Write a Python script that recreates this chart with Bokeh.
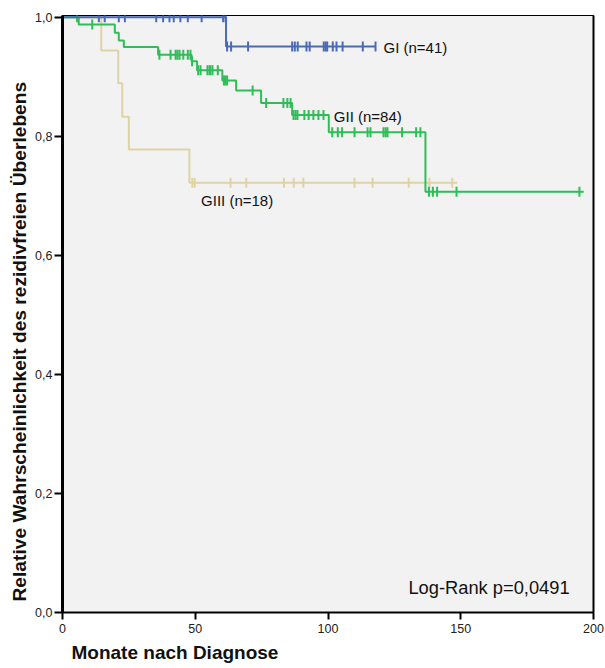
import numpy as np
from bokeh.plotting import figure
from bokeh.models import Range1d, FixedTicker, Label, LinearAxis, Title
from bokeh.embed import file_html
from bokeh.resources import INLINE

# ---- data ----
# GI (n=41)
gi_time = [0.0, 61.6]
gi_surv = [1.0, 0.951]
gi_end = 117.9
gi_cens = [13.7, 15.9, 21.2, 23.5, 35.3, 37.9, 40.3, 41.9, 44.4, 47.2, 52.4, 60.5, 61.4,
           62.0, 63.5, 69.9, 86.5, 87.5, 88.6, 91.9, 93.1, 98.4, 99.1, 99.7, 101.8, 103.2,
           105.5, 113.1, 117.9]

# GII (n=84)
gii_time = [0.0, 6.1, 19.7, 21.2, 23.1, 36.0, 48.6, 50.7, 60.2, 65.4, 74.8, 86.5, 100.3, 136.7]
gii_surv = [1.0, 0.988, 0.974, 0.961, 0.950, 0.937, 0.926, 0.911, 0.894, 0.877, 0.856, 0.836, 0.807, 0.707]
gii_end = 196.3
gii_cens = [5.5, 11.2,
            36.5, 40.7, 42.6, 43.3, 44.1, 45.5, 47.2, 48.2,
            48.8,
            51.1, 52.0, 54.6, 55.4, 55.7, 56.5, 58.5,
            60.8, 61.4, 62.0,
            71.6,
            76.7, 83.2, 84.7, 85.9,
            87.0, 87.8, 88.5, 91.1, 92.7, 94.5, 96.4, 98.3,
            101.6, 103.7, 105.3, 110.0, 114.9, 116.0, 120.9, 121.7, 122.4, 127.9, 133.2, 134.8,
            138.0, 139.5, 141.1, 148.4, 194.7]

# GIII (n=18)
giii_time = [0.0, 14.6, 21.0, 22.5, 25.0, 47.8]
giii_surv = [1.0, 0.944, 0.889, 0.833, 0.778, 0.722]
giii_end = 148.7
giii_cens = [48.9, 49.8, 63.3, 69.2, 83.4, 87.1, 90.7, 110.0, 116.8, 130.4, 138.2, 146.8]

group_labels = ["GI (n=41)", "GII (n=84)", "GIII (n=18)"]
logrank_text = "Log-Rank p=0,0491"

x_ticks = [0, 50, 100, 150, 200]
y_ticks = [0.0, 0.2, 0.4, 0.6, 0.8, 1.0]
y_tick_labels = ["0,0", "0,2", "0,4", "0,6", "0,8", "1,0"]

x_title = "Monate nach Diagnose"
y_title = "Relative Wahrscheinlichkeit des rezidivfreien Überlebens"

COL_GI = "#4a6ab8"
COL_GII = "#2fbd58"
COL_GIII = "#ddd4a3"
FONT = "Liberation Sans"

p = figure(width=605, height=668, output_backend="svg", toolbar_location=None,
           x_range=Range1d(0, 200), y_range=Range1d(0, 1.003),
           min_border_left=62, min_border_right=12, min_border_top=15, min_border_bottom=56)
p.background_fill_color = "#f2f2f2"
p.border_fill_color = "white"
p.outline_line_color = "black"
p.outline_line_width = 1
p.grid.visible = False


def surv_at(times, survs, t):
    idx = np.searchsorted(np.array(times), np.array(t), side="right") - 1
    return list(np.array(survs)[idx])


def draw(times, survs, end, cens, color):
    xs = list(times) + [end]
    ys = list(survs) + [survs[-1]]
    p.step(xs, ys, mode="after", line_color=color, line_width=2)
    p.scatter(cens, surv_at(times, survs, cens), marker="dash", angle=np.pi / 2,
              size=10, line_color=color, line_width=2)


draw(giii_time, giii_surv, giii_end, giii_cens, COL_GIII)
draw(gii_time, gii_surv, gii_end, gii_cens, COL_GII)
draw(gi_time, gi_surv, gi_end, gi_cens, COL_GI)

# axes
for ax in (p.xaxis[0], p.yaxis[0]):
    ax.axis_line_color = "black"
    ax.major_tick_line_color = "black"
    ax.major_tick_line_width = 2
    ax.minor_tick_line_color = None
    ax.major_tick_in = 0
    ax.major_label_text_font = FONT
    ax.major_label_text_font_size = "12.5px"
    ax.major_label_text_color = "#222222"

p.yaxis.axis_line_width = 3
p.xaxis.axis_line_width = 2
p.xaxis.major_tick_out = 7
p.yaxis.major_tick_out = 8
p.xaxis.ticker = FixedTicker(ticks=x_ticks)
p.yaxis.ticker = FixedTicker(ticks=y_ticks)
p.yaxis.major_label_overrides = {t: l for t, l in zip(y_ticks, y_tick_labels)}
p.xaxis.major_label_standoff = 4
p.yaxis.major_label_standoff = 2

right_ax = LinearAxis(axis_line_width=2, axis_line_color="black",
                      major_tick_line_color=None, minor_tick_line_color=None,
                      major_label_text_font_size="0px", ticker=FixedTicker(ticks=[]))
p.add_layout(right_ax, "right")

# group labels
lab_pos = [(120.9, 0.950), (102.2, 0.833), (52.2, 0.693)]
for txt, (lx, ly) in zip(group_labels, lab_pos):
    p.add_layout(Label(x=lx, y=ly, text=txt, text_font=FONT, text_font_size="15px",
                       text_baseline="middle", text_align="left", text_color="#111111"))

p.add_layout(Label(x=130.3, y=0.042, text=logrank_text, text_font=FONT,
                   text_font_size="18.3px", text_baseline="middle", text_align="left",
                   text_color="#111111"))

# axis titles
p.add_layout(Title(text=x_title, text_font=FONT, text_font_size="19px",
                   text_font_style="bold", align="left", offset=9, standoff=8,
                   text_color="#111111"), "below")
p.add_layout(Title(text=y_title, text_font=FONT, text_font_size="19.2px",
                   text_font_style="bold", align="left", offset=11, standoff=5,
                   text_color="#111111"), "left")

open("out.html", "w").write(file_html(p, INLINE))
